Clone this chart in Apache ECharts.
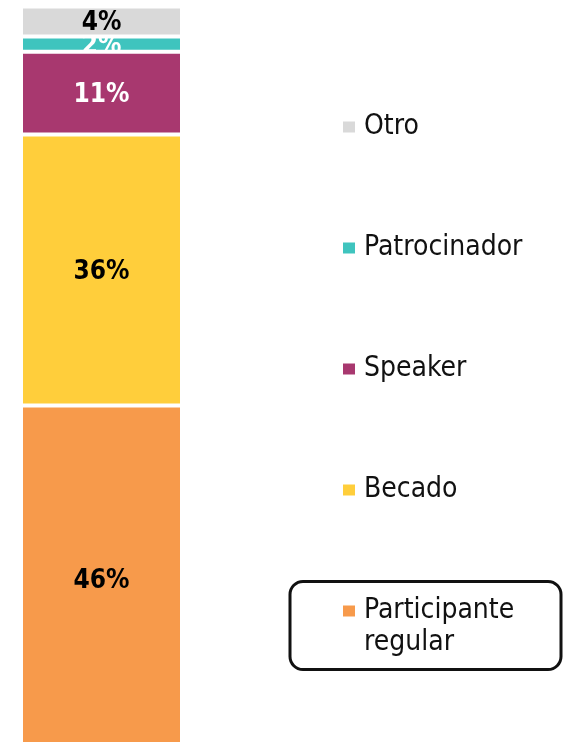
<!DOCTYPE html>
<html>
<head>
<meta charset="utf-8">
<script src="https://cdn.jsdelivr.net/npm/echarts@6/dist/echarts.min.js"></script>
<style>
  html, body { margin: 0; padding: 0; background: #fff; }
  #chart { width: 565px; height: 742px; }
</style>
</head>
<body>
<div id="chart"></div>
<script>
// one stacked column, bottom to top
const categories = ["Asistentes"];
const seriesNames = ["Participante regular", "Becado", "Speaker", "Patrocinador", "Otro"];
const seriesValues = [46, 36, 11, 2, 4];
const legendTop = ["Otro", "Patrocinador", "Speaker", "Becado"];
const legendBottom = ["Participante regular"];

const COLORS = {
  "Participante regular": "#F79A4B",
  "Becado": "#FFCE3B",
  "Speaker": "#A8386F",
  "Patrocinador": "#3FC4BE",
  "Otro": "#D9D9D9",
};
const LABEL_COLORS = {
  "Participante regular": "#000",
  "Becado": "#000",
  "Speaker": "#fff",
  "Patrocinador": "#fff",
  "Otro": "#000",
};

const FONT = "'DejaVu Sans Condensed', 'Liberation Sans', sans-serif";

const chart = echarts.init(document.getElementById("chart"));

const series = seriesNames.map((name, i) => ({
  name: name,
  type: "bar",
  stack: "total",
  barWidth: "100%",
  // upper segments on top so their labels can spill over the one below
  z: 2 + i,
  data: [seriesValues[i]],
  itemStyle: {
    color: COLORS[name],
    borderColor: "#fff",
    borderWidth: 2,
  },
  label: {
    show: true,
    position: "inside",
    offset: [0, 2],
    formatter: "{c}%",
    color: LABEL_COLORS[name],
    fontFamily: FONT,
    fontWeight: "bold",
    fontSize: 26,
  },
  emphasis: { disabled: true },
}));

const legendText = (lineHeight) => ({
  fontFamily: FONT,
  fontSize: 28,
  color: "#111",
  lineHeight: lineHeight,
  rich: {
    t: { fontFamily: FONT, fontSize: 28, color: "#111", lineHeight: lineHeight, padding: [0, 0, 0, 3] },
  },
});

chart.setOption({
  animation: false,
  // the column runs past the bottom edge of the picture
  grid: { left: 21, width: 161, top: 6.5, height: 745.5, outerBoundsMode: "none" },
  xAxis: {
    type: "category",
    data: categories,
    show: false,
  },
  yAxis: {
    type: "value",
    min: 0,
    max: 99,
    show: false,
  },
  legend: [
    {
      data: legendTop,
      orient: "vertical",
      left: 341,
      top: 112,
      padding: 0,
      itemGap: 91,
      itemWidth: 14,
      itemHeight: 13,
      icon: "rect",
      selectedMode: false,
      formatter: (name) => "{t|" + name + "}",
      textStyle: legendText(30),
    },
    {
      data: legendBottom,
      orient: "vertical",
      left: 341,
      top: 563,
      padding: 0,
      itemWidth: 14,
      itemHeight: 13,
      icon: "rect",
      selectedMode: false,
      // empty first line keeps "Participante" level with the marker
      formatter: (name) => "{t| }\n" + name.split(" ").map((w) => "{t|" + w + "}").join("\n"),
      textStyle: legendText(32),
    },
  ],
  graphic: [
    {
      type: "rect",
      shape: { x: 290, y: 581.5, width: 271, height: 88, r: 13 },
      style: { fill: "none", stroke: "#111", lineWidth: 3 },
      silent: true,
    },
  ],
  series: series,
});
</script>
</body>
</html>
